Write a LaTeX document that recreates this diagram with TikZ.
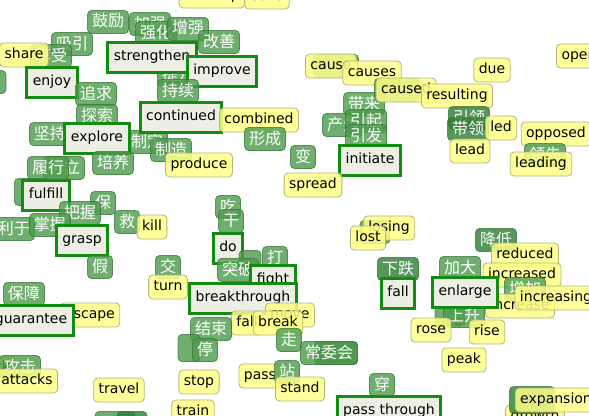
\documentclass[tikz,border=0pt]{standalone}
\usepackage{fontspec}
\newfontfamily\enfont{DejaVu Sans}
\newfontfamily\zhfont{Noto Sans CJK SC}
\definecolor{ywf}{HTML}{FFFF88}
\definecolor{ywb}{HTML}{B0AA78}
\definecolor{gnf}{HTML}{4C9A4C}
\definecolor{gnb}{HTML}{3E7A3E}
\definecolor{gdf}{HTML}{2E7D32}
\definecolor{bxf}{HTML}{EDEFE4}
\definecolor{bxb}{HTML}{148C14}
\tikzset{
  yw/.style={draw=ywb, fill=ywf, fill opacity=0.85, draw opacity=0.9, text opacity=1, rounded corners=4pt, line width=0.8pt, inner xsep=5pt, inner ysep=0pt, minimum height=24pt, font=\enfont\fontsize{14}{16}\selectfont, text=black, text height=10.5pt, text depth=3pt},
  gn/.style={draw=gnb, fill=gnf, fill opacity=0.8, draw opacity=0.8, text opacity=1, rounded corners=4pt, line width=0.8pt, inner xsep=4.5pt, inner ysep=0pt, minimum height=23pt, minimum width=25pt, font=\zhfont\fontsize{16}{18}\selectfont, text=white, text height=12pt, text depth=2pt},
  gd/.style={gn, fill=gdf},
  bx/.style={draw=bxb, fill=bxf, line width=3pt, inner xsep=6pt, inner ysep=0pt, minimum height=30pt, font=\enfont\fontsize{14}{16}\selectfont, text=black, text height=10.5pt, text depth=3pt}
}
\begin{document}
\begin{tikzpicture}[x=1pt,y=-1pt]
\path[use as bounding box, fill=white] (0,0) rectangle (589,415);
% top
\node[yw] (develop) at (212,-4) {develop};
\node[yw] (build) at (267,-3) {build};
% top left
\node[gn] (guli) at (108,22) {鼓励};
\node[gn] (jiaqiang) at (150,24) {加强};
\node[gn] (qianghua) at (156,33) {强化};
\node[gn] (zengqiang) at (188,29) {增强};
\node[gn] (gaishan) at (219,42) {改善};
\node[gn] (xiyin) at (72,44) {吸引};
\node[gn] (xiangshou) at (51,56) {享受};
\node[yw] (share) at (24,55) {share};
\node[gn] (tisheng) at (178,75) {提升};
\node[bx] (strengthen) at (152,57) {strengthen};
\node[bx] (improve) at (222,71) {improve};
\node[gn, minimum width=30pt] (leftedge) at (-9,82) {};
\node[bx] (enjoy) at (52,82) {enjoy};
\node[gn] (zhuiqiu) at (96,94) {追求};
\node[gn] (tansuo) at (97,116) {探索};
\node[gn] (chixu) at (178,91) {持续};
\node[gn] (jianchi) at (50,134) {坚持};
\node[gn] (zhiding) at (147,142) {制定};
\node[bx] (explore) at (97,138) {explore};
\node[bx] (continued) at (181,117) {continued};
\node[yw] (combined) at (259,120) {combined};
\node[gn] (xingcheng) at (265,139) {形成};
\node[gn] (zhizao) at (171,150) {制造};
\node[yw] (produce) at (199,165) {produce};
\node[gn] (peiyang) at (113,163) {培养};
\node[gn] (shuli) at (64,168) {树立};
\node[gn] (lvxing) at (48,168) {履行};
\node[gn, minimum width=35pt, minimum height=27pt] (fulback) at (32,192) {};
\node[bx] (fulfill) at (46,195) {fulfill};
\node[gn] (bao) at (103,203) {保};
\node[gn] (baowo) at (80,213) {把握};
\node[gn] (jiu) at (127,222) {救};
\node[yw] (kill) at (152,227) {kill};
\node[gn] (liyu) at (14,229) {利于};
\node[gn] (zhangwo) at (50,225) {掌握};
\node[bx] (grasp) at (82,240) {grasp};
\node[gn] (jia) at (100,267) {假};
\node[gn] (jiao) at (168,267) {交};
% center top
\node[gn] (bian) at (303,157) {变};
\node[gn] (dailai) at (364,104) {带来};
\node[gn] (chansheng) at (343,125) {产生};
\node[gn] (yinqi) at (366,121) {引起};
\node[gn] (yinfa) at (366,136) {引发};
\node[bx] (initiate) at (370,160) {initiate};
\node[yw] (spread) at (313,185) {spread};
\node[gn, minimum width=45pt] (causeg) at (336,66) {};
\node[yw] (cause) at (331,66) {cause};
\node[yw] (causes) at (372,73) {causes};
\node[gn, minimum width=45pt] (causedg) at (397,90) {};
\node[yw] (caused) at (406,90) {caused};
\node[yw] (resulting) at (457,96) {resulting};
\node[yw] (due) at (492,70) {due};
\node[yw] (open) at (579,56) {open};
\node[gd] (yinling) at (469,118) {引领};
\node[gd] (dailing) at (468,129) {带领};
\node[yw] (led) at (501,128) {led};
\node[yw] (lead) at (470,151) {lead};
\node[yw] (opposed) at (556,134) {opposed};
\node[gn] (lingxian) at (545,155) {领先};
\node[yw] (leading) at (541,164) {leading};
% middle
\node[gn] (chi) at (228,207) {吃};
\node[gn] (gan) at (231,221) {干};
\node[bx] (do) at (228,248) {do};
\node[gn, minimum width=22pt] (daback) at (250,262) {};
\node[gn] (da) at (275,258) {打};
\node[gn] (tupo) at (238,270) {突破};
\node[bx] (fight) at (273,280) {fight};
\node[yw] (turn) at (168,287) {turn};
\node[bx] (breakthrough) at (243,298) {breakthrough};
\node[yw] (fallb) at (247,323) {fall};
\node[yw] (move) at (290,315) {move};
\node[yw] (break) at (278,323) {break};
\node[gn] (zou) at (289,340) {走};
\node[gd, minimum width=43pt] (cwhback) at (336,353) {};
\node[gn] (changweihui) at (329,353) {常委会};
\node[gn] (jieshu) at (211,329) {结束};
\node[gn, minimum width=22pt, minimum height=27pt] (tingback) at (189,348) {};
\node[gn] (ting) at (205,350) {停};
\node[yw] (stop) at (199,382) {stop};
\node[yw] (pass) at (260,376) {pass};
\node[gn] (zhan) at (287,372) {站};
\node[yw] (stand) at (300,389) {stand};
\node[gn] (chuan) at (382,385) {穿};
\node[bx] (passthrough) at (389,411) {pass through};
\node[yw] (train) at (193,412) {train};
\node[yw] (travel) at (119,390) {travel};
\node[gn, minimum width=40pt] (botg1) at (115,423) {};
\node[gd, minimum width=30pt] (botg2) at (132,423) {};
% left bottom
\node[gn] (baozhang) at (24,294) {保障};
\node[yw] (escape) at (90,315) {escape};
\node[bx] (guarantee) at (31,320) {guarantee};
\node[yw] (attack) at (-12,368) {attack};
\node[gn] (gongji) at (20,367) {攻击};
\node[yw] (attacks) at (27,381) {attacks};
% right
\node[gn, minimum width=30pt] (losingg) at (375,232) {};
\node[yw] (losing) at (389,228) {losing};
\node[yw] (lost) at (368,238) {lost};
\node[gd] (jiangdi) at (496,240) {降低};
\node[yw] (reduced) at (525,255) {reduced};
\node[gn] (jiada) at (460,268) {加大};
\node[yw] (increased) at (522,275) {increased};
\node[gd] (xiadie) at (398,269) {下跌};
\node[bx] (fall) at (398,293) {fall};
\node[gn] (zengjia) at (525,289) {增加};
\node[yw] (increase) at (520,306) {increase};
\node[yw] (increasing) at (556,298) {increasing};
\node[gn, minimum width=30pt] (shangback) at (450,314) {};
\node[gn] (shangsheng) at (464,316) {上升};
\node[bx] (enlarge) at (465,292) {enlarge};
\node[yw] (rose) at (431,330) {rose};
\node[yw] (rise) at (487,332) {rise};
\node[yw] (peak) at (464,360) {peak};
\node[yw] (growth) at (535,417) {growth};
\node[gd, minimum width=45pt, minimum height=27pt] (expg) at (532,400) {};
\node[yw] (expansion) at (556,400) {expansion};
\end{tikzpicture}
\end{document}
